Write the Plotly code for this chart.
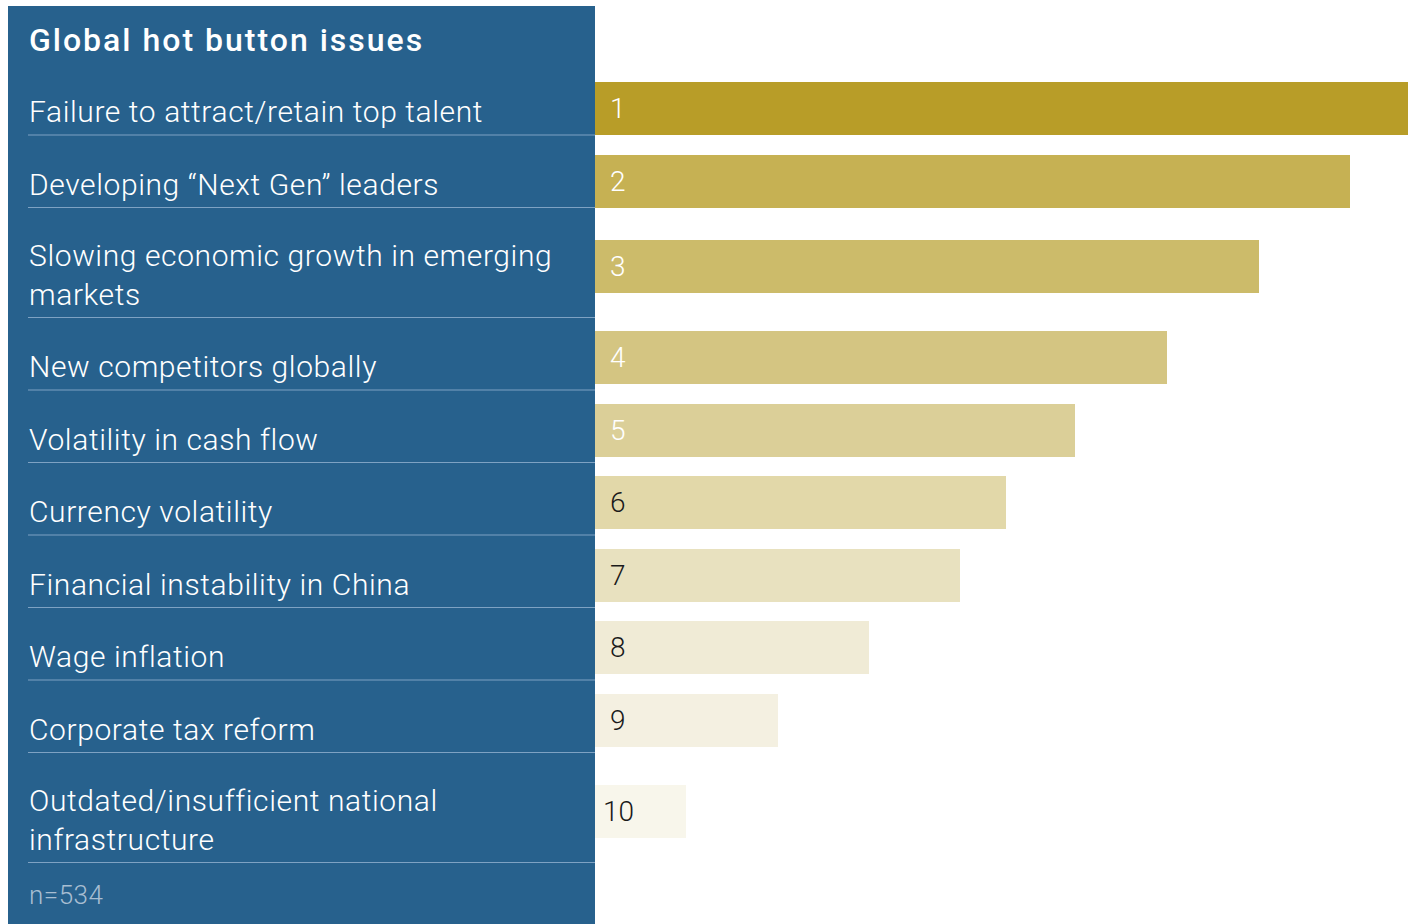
import plotly.graph_objects as go

# ---- data ----
title = "Global hot button issues"
issues = [
    "Failure to attract/retain top talent",
    "Developing “Next Gen” leaders",
    "Slowing economic growth in emerging<br>markets",
    "New competitors globally",
    "Volatility in cash flow",
    "Currency volatility",
    "Financial instability in China",
    "Wage inflation",
    "Corporate tax reform",
    "Outdated/insufficient national<br>infrastructure",
]
ranks = ["1", "2", "3", "4", "5", "6", "7", "8", "9", "10"]
scores = [9.2, 8.27, 7.27, 6.26, 5.26, 4.5, 4.0, 3.0, 2.0, 1.0]
bar_colors = ["#B89D28", "#C6B153", "#CCBB6A", "#D4C582", "#DBCF98",
              "#E2D8A9", "#E8E1BF", "#F0EBD6", "#F4F0E1", "#F8F6EB"]
rank_colors = ["#FFFFFF"] * 5 + ["#1A1A1A"] * 5
note = "n=534"

# ---- layout helpers (pixel-based y axis) ----
W, H = 1408, 924
panel_left, panel_right, panel_top = 8, 595, 6
text_left = 27
row_top0 = 62.5
lines = [lab.count("<br>") + 1 for lab in issues]
row_h = [35 + 37.5 * n for n in lines]
tops, bottoms = [], []
t = row_top0
for h in row_h:
    tops.append(t)
    bottoms.append(t + h)
    t += h
centers = [(a + b) / 2 + 4 for a, b in zip(tops, bottoms)]
centers[0] += 6
centers[1] += 6

px_per_unit = 91.3
x_max = (W - panel_right) / px_per_unit

fig = go.Figure()
fig.add_trace(go.Bar(
    x=scores, y=centers, orientation="h", width=53,
    marker=dict(color=bar_colors, line=dict(width=0)),
    hoverinfo="skip", showlegend=False,
))

shapes = [dict(type="rect", xref="paper", yref="paper",
               x0=panel_left / W, x1=panel_right / W, y0=0, y1=1 - panel_top / H,
               fillcolor="#27618D", line=dict(width=0), layer="below")]
for b in bottoms:
    shapes.append(dict(type="line", xref="paper", yref="y",
                       x0=28 / W, x1=panel_right / W, y0=b, y1=b,
                       line=dict(color="#7EA2C3", width=1)))

font_main = "Roboto, Noto Sans, sans-serif"
annotations = [dict(text=title, xref="paper", yref="y",
                    x=text_left / W, y=40, xanchor="left", yanchor="middle",
                    align="left", showarrow=False,
                    font=dict(family=font_main, size=32, color="white", weight=500))]
for lab, b in zip(issues, bottoms):
    annotations.append(dict(text=lab, xref="paper", yref="y", x=text_left / W, y=b - 4,
                            xanchor="left", yanchor="bottom", align="left",
                            showarrow=False,
                            font=dict(family=font_main, size=30, color="white", weight=300)))
for r, c, col in zip(ranks, centers, rank_colors):
    annotations.append(dict(text=r, xref="x", yref="y", x=0, y=c, xshift=23,
                            xanchor="center", yanchor="middle", showarrow=False,
                            font=dict(family=font_main, size=28, color=col, weight=300)))
annotations.append(dict(text=note, xref="paper", yref="y", x=text_left / W, y=895,
                        xanchor="left", yanchor="middle", align="left", showarrow=False,
                        font=dict(family=font_main, size=26, color="#A8BED2", weight=300)))

fig.update_layout(
    width=W, height=H, margin=dict(l=0, r=0, t=0, b=0),
    paper_bgcolor="white", plot_bgcolor="rgba(0,0,0,0)",
    xaxis=dict(domain=[panel_right / W, 1], range=[0, x_max], visible=False, fixedrange=True),
    yaxis=dict(domain=[0, 1], range=[H, 0], visible=False, fixedrange=True),
    shapes=shapes, annotations=annotations, bargap=0,
)

# widen the tracking of the left-panel texts (the original uses a wide-set face)
post = """
var gd = document.getElementById('{plot_id}');
gd.querySelectorAll('.annotation-text').forEach(function(t){
  var fs = t.style.fontSize;
  if (fs === '32px') t.style.letterSpacing = '2px';
  else if (fs === '30px') t.style.letterSpacing = '0.6px';
  else if (fs === '26px') t.style.letterSpacing = '0.5px';
});
"""
fig.write_html("out.html", post_script=post)
